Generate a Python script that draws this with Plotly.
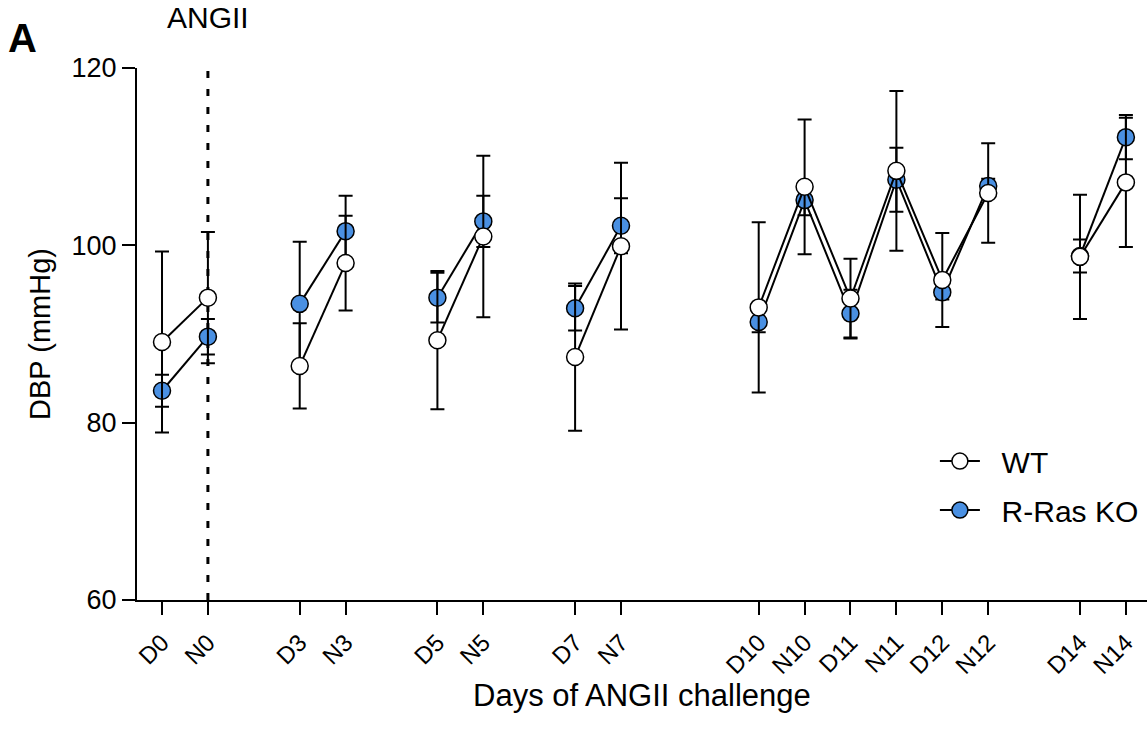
import plotly.graph_objects as go

# ---- data ----
groups = [["D0", "N0"], ["D3", "N3"], ["D5", "N5"], ["D7", "N7"],
          ["D10", "N10", "D11", "N11", "D12", "N12"], ["D14", "N14"]]
labels = [lab for g in groups for lab in g]

wt_mean = [89.1, 94.1, 86.4, 98.0, 89.3, 101.0, 87.4, 99.9,
           93.0, 106.6, 94.0, 108.4, 96.1, 105.9, 98.7, 107.1]
wt_err = [10.2, 7.4, 4.8, 5.35, 7.8, 9.1, 8.3, 9.4,
          9.6, 7.6, 4.5, 9.0, 5.3, 5.6, 7.0, 7.3]
ko_mean = [83.6, 89.7, 93.4, 101.6, 94.1, 102.7, 92.9, 102.2,
           91.35, 105.1, 92.3, 107.4, 94.7, 106.7, 98.8, 112.2]
ko_err = [1.8, 2.0, 7.0, 4.0, 2.8, 2.9, 2.5, 3.1,
          1.15, 1.7, 2.7, 3.6, 0.8, 0.8, 1.85, 2.5]

y_ticks = [60, 80, 100, 120]

# ---- layout of the category positions (gaps between groups) ----
group_gaps = [0, 2, 2, 2, 3, 2]
positions = []
seg_x_groups = []
p = 0
for gi, g in enumerate(groups):
    p += group_gaps[gi] if gi > 0 else 0
    gx = []
    for k, _ in enumerate(g):
        if k > 0:
            p += 1
        positions.append(p)
        gx.append(p)
    seg_x_groups.append(gx)


def broken(vals):
    xs, ys = [], []
    i = 0
    for gx in seg_x_groups:
        for x in gx:
            xs.append(x)
            ys.append(vals[i])
            i += 1
        xs.append(None)
        ys.append(None)
    return xs, ys


FONT = "Liberation Sans, Arial, Helvetica, sans-serif"
NB = "\u00a0"
fig = go.Figure()

for rank, name, mean, err, fill in [(2, "R-Ras KO", ko_mean, ko_err, "#4A90E2"),
                                    (1, "WT", wt_mean, wt_err, "white")]:
    # error bars
    fig.add_trace(go.Scatter(
        x=positions, y=mean, mode="markers",
        marker=dict(size=0.1, color="rgba(0,0,0,0)"),
        error_y=dict(type="data", array=err, visible=True, color="black",
                     thickness=2, width=7),
        showlegend=False, hoverinfo="skip"))
    xs, ys = broken(mean)
    fig.add_trace(go.Scatter(
        x=xs, y=ys, mode="lines", line=dict(color="black", width=2),
        showlegend=False, hoverinfo="skip", connectgaps=False))
    fig.add_trace(go.Scatter(
        x=positions, y=mean, mode="markers", name=name,
        marker=dict(size=17, color=fill, line=dict(color="black", width=1.5)),
        showlegend=False))
    # legend entry
    fig.add_trace(go.Scatter(
        x=[None], y=[None], mode="lines+markers", name=NB * 2 + name,
        legendgroup=name, legendrank=rank,
        line=dict(color="black", width=2),
        marker=dict(size=17, color=fill, line=dict(color="black", width=1.5)),
        showlegend=True))

n0 = positions[labels.index("N0")]
fig.add_shape(type="line", x0=n0, x1=n0, y0=60, y1=120, xref="x", yref="y",
              line=dict(color="black", width=3, dash="7px,11px"), layer="below")

fig.add_annotation(x=n0, y=1.0, xref="x", yref="paper", yshift=69,
                   text="ANGII", showarrow=False,
                   font=dict(size=30, color="black", family=FONT))
fig.add_annotation(x=-0.13, y=1.0, xref="paper", yref="paper", yshift=54,
                   text="<b>A</b>", showarrow=False, xanchor="left",
                   font=dict(size=40, color="black", family=FONT))
# x-axis title
fig.add_annotation(x=0.5, y=0, xref="paper", yref="paper", yshift=-95,
                   yanchor="middle", text="Days of ANGII challenge",
                   showarrow=False,
                   font=dict(size=31, color="black", family=FONT))

fig.update_layout(
    width=1147, height=742,
    margin=dict(l=137, r=0, t=68, b=142),
    plot_bgcolor="white", paper_bgcolor="white",
    font=dict(family=FONT, color="black"),
    legend=dict(x=0.79, y=0.31, xanchor="left", yanchor="top",
                traceorder="grouped", tracegroupgap=7,
                font=dict(size=30),
                bgcolor="rgba(0,0,0,0)", itemwidth=40),
    showlegend=True,
)
fig.update_xaxes(
    range=[-0.545, positions[-1] + 0.46],
    tickvals=positions, ticktext=labels, tickangle=-45,
    tickfont=dict(size=24), ticks="outside", ticklen=13, tickwidth=2,
    ticklabelstandoff=4,
    tickcolor="black", showline=True, linecolor="black", linewidth=2,
    showgrid=False, zeroline=False,
)
fig.update_yaxes(
    range=[60, 120], tickvals=y_ticks, ticks="outside", ticklen=13,
    tickwidth=2, tickcolor="black", tickfont=dict(size=27),
    showline=True, linecolor="black", linewidth=2,
    showgrid=False, zeroline=False,
    title=dict(text="DBP (mmHg)", font=dict(size=29), standoff=12),
)

fig.write_html("out.html")
